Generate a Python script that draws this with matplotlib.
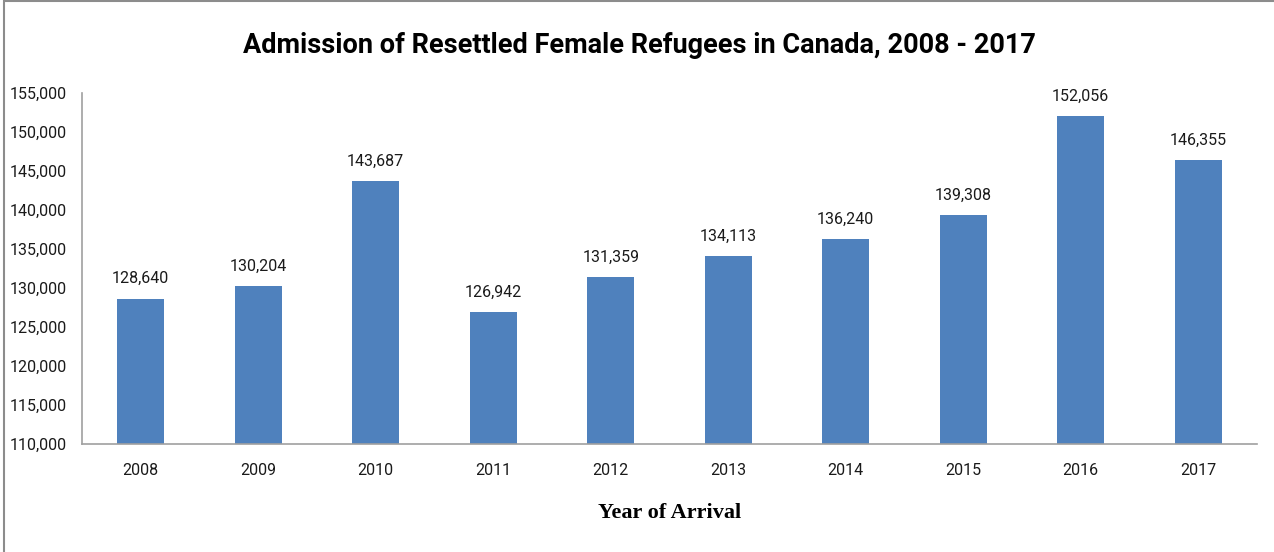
import matplotlib.pyplot as plt
from matplotlib.patches import Rectangle
from matplotlib.ticker import FuncFormatter

years = ['2008', '2009', '2010', '2011', '2012', '2013', '2014', '2015', '2016', '2017']
admissions = [128640, 130204, 143687, 126942, 131359, 134113, 136240, 139308, 152056, 146355]

plt.rcParams['font.family'] = ['Roboto', 'DejaVu Sans']

fig = plt.figure(figsize=(12.74, 5.52), dpi=100)
ax = fig.add_axes([0.0644, 0.1957, 0.9223, 0.6358])

x = range(len(years))
ax.bar(x, admissions, width=0.4, color='#4F81BD', zorder=2)
for i, v in zip(x, admissions):
    ax.annotate(f'{v:,}', (i, v), xytext=(0, 9), textcoords='offset points',
                ha='center', va='bottom', fontsize=11.5, color='#1a1a1a')

ax.set_xlim(-0.5, len(years) - 0.5)
ax.set_ylim(110000, 155000)
ax.set_yticks(range(110000, 155001, 5000))
ax.yaxis.set_major_formatter(FuncFormatter(lambda v, p: f'{int(v):,}'))
ax.set_xticks(list(x))
ax.set_xticklabels(years)
ax.tick_params(axis='both', length=0, labelsize=11.5, colors='#1a1a1a')
ax.tick_params(axis='x', pad=14)
ax.tick_params(axis='y', pad=11)

for s in ['top', 'right']:
    ax.spines[s].set_visible(False)
for s in ['left', 'bottom']:
    ax.spines[s].set_color('#a0a0a0')
    ax.spines[s].set_linewidth(1.2)

ax.set_xlabel('Year of Arrival', family=['Liberation Serif', 'DejaVu Serif'],
              fontweight='bold', fontsize=16, labelpad=18)

fig.text(0.502, 0.917, 'Admission of Resettled Female Refugees in Canada, 2008 - 2017',
         ha='center', va='center', fontsize=19.5, fontweight='bold', color='black')

# chart border
fig.patches.append(Rectangle((0.003, -0.01), 1.5, 1.008, transform=fig.transFigure,
                             fill=False, edgecolor='#8c8c8c', linewidth=1.5))

fig.savefig('out.png', dpi=100)
